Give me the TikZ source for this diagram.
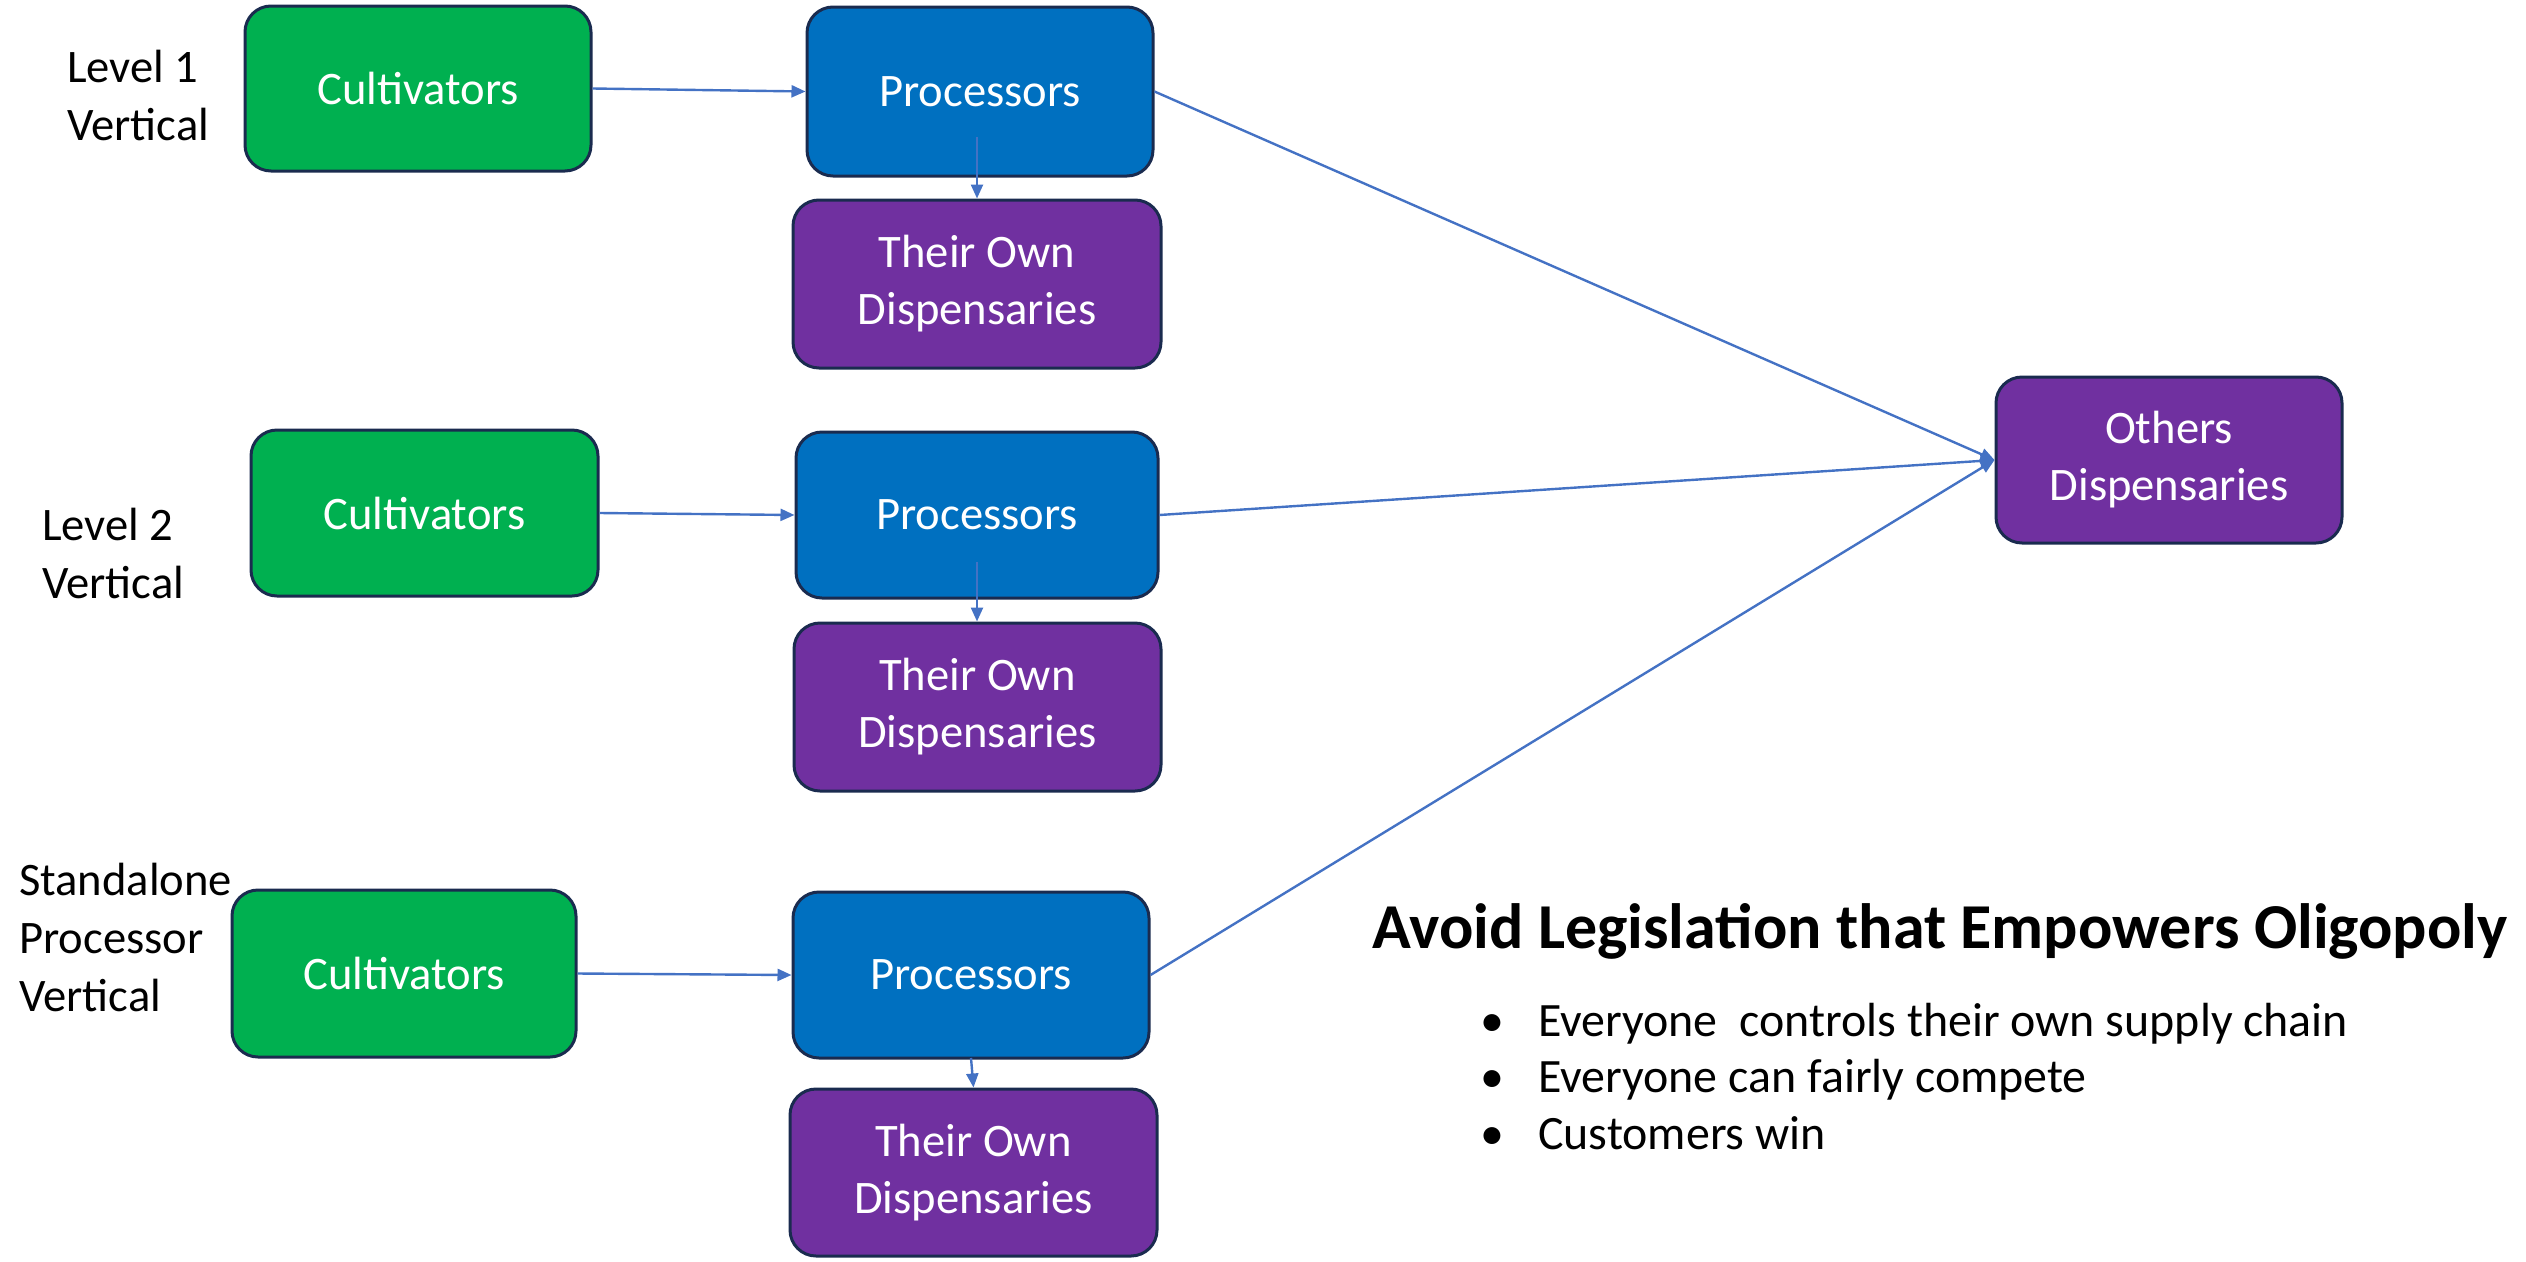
\documentclass[tikz,border=0pt]{standalone}
\usepackage{fontspec}
\setmainfont{Carlito}
\usetikzlibrary{arrows.meta}
\definecolor{cgreen}{HTML}{00B050}
\definecolor{cblue}{HTML}{0070C0}
\definecolor{cpurple}{HTML}{7030A0}
\definecolor{cborder}{HTML}{1A2B4F}
\definecolor{carrow}{HTML}{4472C4}
\begin{document}
\begin{tikzpicture}[x=1pt,y=-1pt,
  box/.style={draw=cborder, line width=3pt, rounded corners=26pt, text=white,
    align=center, inner sep=0pt, font=\fontsize{46.6}{57}\selectfont},
  cult/.style={box, fill=cgreen},
  proc/.style={box, fill=cblue},
  disp/.style={box, fill=cpurple},
  conn/.style={draw=carrow, line width=2.4pt, -{Triangle[length=14pt,width=12pt]}},
  lbl/.style={anchor=base west, inner sep=0pt, font=\fontsize{46.6}{58}\selectfont},
]
\useasboundingbox (0,0) rectangle (2526,1261);

% Row 1
\node[cult, minimum width=346pt, minimum height=165pt] (C1) at (418,88.5) {Cultivators};
\node[proc, minimum width=346pt, minimum height=169pt] (P1) at (980,91.5) {Processors};
\node[disp, minimum width=368pt, minimum height=168pt] (D1) at (977,284) {Their Own\\Dispensaries};
% Row 2
\node[cult, minimum width=347pt, minimum height=166pt] (C2) at (424.5,513) {Cultivators};
\node[proc, minimum width=362pt, minimum height=166pt] (P2) at (977,515) {Processors};
\node[disp, minimum width=367pt, minimum height=168pt] (D2) at (977.5,707) {Their Own\\Dispensaries};
% Row 3
\node[cult, minimum width=344pt, minimum height=167pt] (C3) at (404,973.5) {Cultivators};
\node[proc, minimum width=356pt, minimum height=166pt] (P3) at (971,975) {Processors};
\node[disp, minimum width=367pt, minimum height=167pt] (D3) at (973.5,1172.5) {Their Own\\Dispensaries};
% Others
\node[disp, minimum width=346pt, minimum height=166pt] (OD) at (2169,460) {Others\\Dispensaries};

% Labels
\node[lbl] (L1) at (67,82) {\begin{tabular}[t]{@{}l@{}}Level 1\\Vertical\end{tabular}};
\node[lbl] (L2) at (42,540) {\begin{tabular}[t]{@{}l@{}}Level 2\\Vertical\end{tabular}};
\node[lbl] (L3) at (19,895) {\begin{tabular}[t]{@{}l@{}}Standalone\\Processor\\Vertical\end{tabular}};

% Connectors
\coordinate (s1) at (977,137);
\coordinate (s2) at (977,562);
\coordinate (s3) at (971,1058);
\draw[conn] (C1.east) -- (P1.west);
\draw[conn] (C2.east) -- (P2.west);
\draw[conn] (C3.east) -- (P3.west);
\draw[conn] (s1) -- (s1 |- D1.north);
\draw[conn] (s2) -- (s2 |- D2.north);
\draw[conn] (s3) -- (D3.north);
\draw[conn] (P1.east) -- (OD.west);
\draw[conn] (P2.east) -- (OD.west);
\draw[conn] (P3.east) -- (OD.west);

% Title and bullets
\node[anchor=base west, inner sep=0pt, font=\bfseries\fontsize{64}{76}\selectfont] (T) at (1372,948) {Avoid Legislation that Empowers Oligopoly};
\node[anchor=base west, inner sep=0pt, font=\fontsize{47.9}{56.5}\selectfont] (B) at (1480,1036)
 {\begin{tabular}[t]{@{}p{58pt}@{}l@{}}
 \textbullet & Everyone\ \ controls their own supply chain\\
 \textbullet & Everyone can fairly compete\\
 \textbullet & Customers win
 \end{tabular}};
\end{tikzpicture}
\end{document}
